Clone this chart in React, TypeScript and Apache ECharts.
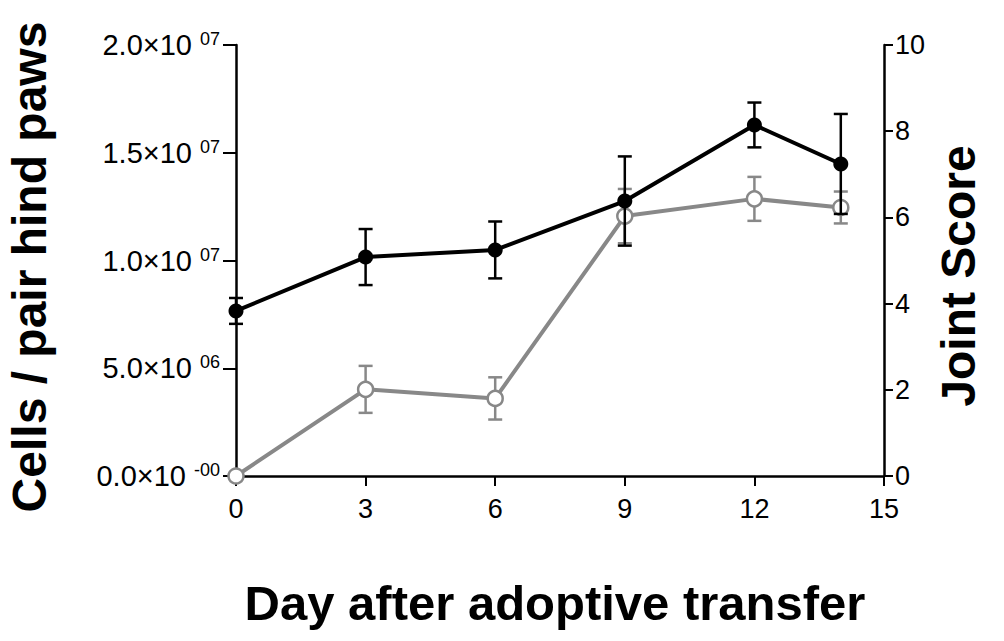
import React, { useEffect, useRef } from "react";
import * as echarts from "echarts";

const days = [0, 3, 6, 9, 12, 14];
const cellCounts = [7.66e6, 10.16e6, 10.49e6, 12.76e6, 16.29e6, 14.48e6];
const cellErrors = [0.6e6, 1.3e6, 1.32e6, 2.07e6, 1.04e6, 2.32e6];
const jointScores = [0, 2.01, 1.8, 6.03, 6.43, 6.23];
const jointErrors = [0, 0.545, 0.49, 0.63, 0.51, 0.37];

const leftTickMantissa = ["0.0×10", "5.0×10", "1.0×10", "1.5×10", "2.0×10"];
const leftTickExponent = ["-00", "06", "07", "07", "07"];

const xTitle = "Day after adoptive transfer";
const leftTitle = "Cells / pair hind paws";
const rightTitle = "Joint Score";

const FONT = "'Liberation Sans', Arial, Helvetica, sans-serif";
const GRAY = "#888888";

export default function App() {
  const ref = useRef<HTMLDivElement>(null);
  useEffect(() => {
    if (!ref.current) return;
    const chart = echarts.init(ref.current, null, { renderer: "svg" });

    const errRender = (color: string) => (params: any, api: any) => {
      const x = api.value(0);
      const lo = api.value(1);
      const hi = api.value(2);
      if (hi - lo <= 0) return { type: "group", children: [] };
      const pLo = api.coord([x, lo]);
      const pHi = api.coord([x, hi]);
      const hw = 7;
      const style = { stroke: color, lineWidth: 2.5 };
      return {
        type: "group",
        children: [
          { type: "line", shape: { x1: pLo[0], y1: pLo[1], x2: pHi[0], y2: pHi[1] }, style },
          { type: "line", shape: { x1: pLo[0] - hw, y1: pLo[1], x2: pLo[0] + hw, y2: pLo[1] }, style },
          { type: "line", shape: { x1: pHi[0] - hw, y1: pHi[1], x2: pHi[0] + hw, y2: pHi[1] }, style },
        ],
      };
    };

    const option: any = {
      animation: false,
      backgroundColor: "#ffffff",
      textStyle: { fontFamily: FONT },
      grid: { left: 236, right: 120, top: 45, bottom: 165, containLabel: false },
      xAxis: {
        type: "value",
        min: 0,
        max: 15,
        interval: 3,
        axisLine: { show: true, onZero: false, lineStyle: { color: "#000", width: 2.5 } },
        axisTick: { show: true, length: 10, lineStyle: { color: "#000", width: 2 } },
        axisLabel: { color: "#000", fontSize: 27, fontFamily: FONT, margin: 19 },
        splitLine: { show: false },
      },
      yAxis: [
        {
          type: "value",
          min: 0,
          max: 2e7,
          interval: 5e6,
          position: "left",
          axisLine: { show: true, lineStyle: { color: "#000", width: 2.5 } },
          axisTick: { show: true, length: 13, lineStyle: { color: "#000", width: 2 } },
          axisLabel: {
            margin: 16,
            color: "#000",
            fontFamily: FONT,
            formatter: (v: number) => {
              const i = Math.round(v / 5e6);
              return `{b|${leftTickMantissa[i]}}{s|${leftTickExponent[i]}}`;
            },
            rich: {
              b: { fontSize: 29, color: "#000", fontFamily: FONT, lineHeight: 30 },
              s: { fontSize: 18, color: "#000", fontFamily: FONT, verticalAlign: "top", padding: [0, 0, 0, 8] },
            },
          },
          splitLine: { show: false },
        },
        {
          type: "value",
          min: 0,
          max: 10,
          interval: 2,
          position: "right",
          axisLine: { show: true, lineStyle: { color: "#000", width: 2.5 } },
          axisTick: { show: true, inside: false, length: 9, lineStyle: { color: "#000", width: 2 } },
          axisLabel: { color: "#000", fontSize: 27, fontFamily: FONT, margin: 11 },
          splitLine: { show: false },
        },
      ],
      graphic: [
        {
          type: "text",
          x: 555,
          y: 603,
          style: {
            text: xTitle,
            font: `bold 49px ${FONT}`,
            fill: "#000",
            textAlign: "center",
            textVerticalAlign: "middle",
          },
        },
        {
          type: "text",
          x: 29,
          y: 267,
          rotation: Math.PI / 2,
          style: {
            text: leftTitle,
            font: `bold 48px ${FONT}`,
            fill: "#000",
            textAlign: "center",
            textVerticalAlign: "middle",
          },
        },
        {
          type: "text",
          x: 958,
          y: 276,
          rotation: Math.PI / 2,
          style: {
            text: rightTitle,
            font: `bold 48px ${FONT}`,
            fill: "#000",
            textAlign: "center",
            textVerticalAlign: "middle",
          },
        },
      ],
      series: [
        {
          type: "custom",
          name: "jointErr",
          yAxisIndex: 1,
          renderItem: errRender(GRAY),
          data: days.map((d, i) => [d, jointScores[i] - jointErrors[i], jointScores[i] + jointErrors[i]]),
          encode: { x: 0, y: [1, 2] },
          z: 1,
        },
        {
          type: "line",
          name: "Joint Score",
          yAxisIndex: 1,
          data: days.map((d, i) => [d, jointScores[i]]),
          symbol: "circle",
          symbolSize: 15,
          lineStyle: { color: GRAY, width: 4 },
          itemStyle: { color: "#ffffff", borderColor: GRAY, borderWidth: 2.5 },
          z: 2,
        },
        {
          type: "line",
          name: "Cells",
          yAxisIndex: 0,
          data: days.map((d, i) => [d, cellCounts[i]]),
          symbol: "circle",
          symbolSize: 15,
          lineStyle: { color: "#000", width: 4 },
          itemStyle: { color: "#000", borderColor: "#000", borderWidth: 0 },
          z: 3,
        },
        {
          type: "custom",
          name: "cellErr",
          yAxisIndex: 0,
          renderItem: errRender("#000"),
          data: days.map((d, i) => [d, cellCounts[i] - cellErrors[i], cellCounts[i] + cellErrors[i]]),
          encode: { x: 0, y: [1, 2] },
          z: 4,
        },
      ],
    };
    chart.setOption(option);
    return () => chart.dispose();
  }, []);

  return (
    <div
      ref={ref}
      style={{ position: "fixed", left: 0, top: 0, width: 1004, height: 641, background: "#fff" }}
    />
  );
}
